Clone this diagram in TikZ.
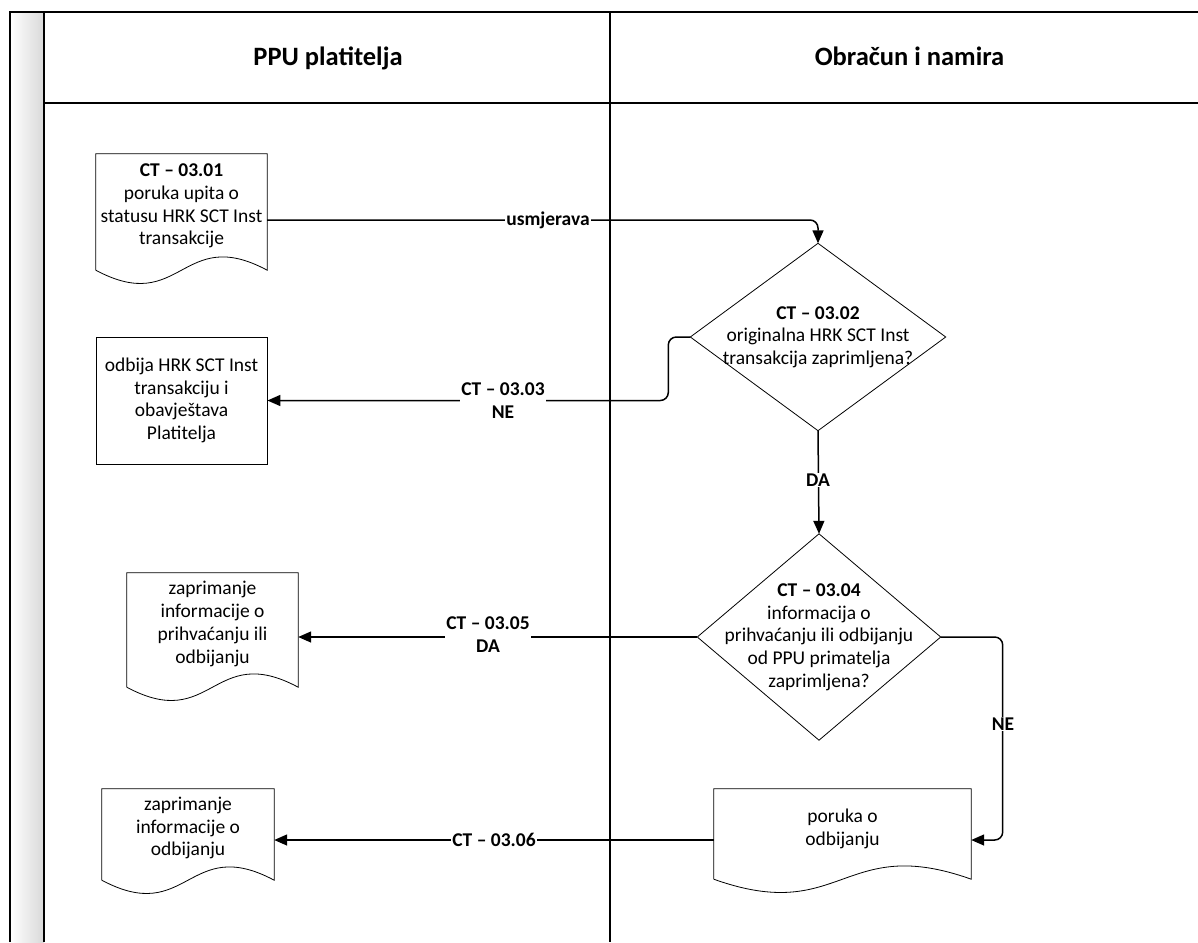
\documentclass[tikz,border=0pt]{standalone}
\usepackage{fontspec}
\setmainfont{Carlito}
\usetikzlibrary{arrows.meta,calc}
\newcommand\docoutline[1]{%
  \draw[shapeline] (#1.south west) -- (#1.north west) -- (#1.north east) -- (#1.south east)
    .. controls ($(#1.south east)!0.5!(#1.south west)+(0,-46)$) and ($(#1.south east)!0.5!(#1.south west)+(0,46)$) .. (#1.south west);}
\newcommand\diamondoutline[1]{%
  \draw[shapeline] (#1.north) -- (#1.east) -- (#1.south) -- (#1.west) -- cycle;}
\begin{document}
\begin{tikzpicture}[x=1pt,y=-1pt,
  every node/.style={font=\fontsize{19.5}{22.7}\selectfont},
  box/.style={draw=none,rectangle,inner sep=0pt,align=center},
  shapeline/.style={draw=black,line width=0.8pt},
  frameline/.style={draw=black,line width=1.3pt},
  conn/.style={line width=1.5pt,-{Triangle[length=13pt,width=11pt]},rounded corners=8pt},
  lbl/.style={fill=white,inner sep=1pt,align=center,font=\fontsize{19.5}{23}\selectfont\bfseries},
  hdr/.style={anchor=base,font=\fontsize{26.5}{30}\selectfont\bfseries}]
\useasboundingbox (0,0) rectangle (1198,942);
% frame
\shade[left color=white,right color=gray!30] (10,12) rectangle (44,942);
\draw[frameline] (10,942) -- (10,12) -- (1198,12);
\draw[frameline] (44,12) -- (44,942);
\draw[frameline] (44,103) -- (1198,103);
\draw[frameline] (610,12) -- (610,942);
\node[hdr] (h1) at (328,66) {PPU platitelja};
\node[hdr] (h2) at (909.5,66) {Obračun i namira};
% shapes
\node[box,minimum width=171pt,minimum height=116pt] (d1) at (181.5,212) {};
\docoutline{d1}
\node[align=center] (t1) at (181.5,206) {\textbf{CT – 03.01}\\poruka upita o\\statusu HRK SCT Inst\\transakcije};
\node[box,draw,shapeline,minimum width=171pt,minimum height=127pt] (r2) at (181.5,400.5) {odbija HRK SCT Inst\\transakciju i\\obavještava\\Platitelja};
\node[box,minimum width=171pt,minimum height=114pt] (d3) at (212.5,630) {};
\docoutline{d3}
\node[align=center] (t3) at (212.5,624) {zaprimanje\\informacije o\\prihvaćanju ili\\odbijanju};
\node[box,minimum width=172pt,minimum height=91pt] (d5) at (188,834.5) {};
\docoutline{d5}
\node[align=center] (t5) at (188,828) {zaprimanje\\informacije o\\odbijanju};
\node[box,minimum width=257pt,minimum height=90pt] (d4) at (842.5,834) {};
\docoutline{d4}
\node[align=center] (t4) at (842.5,829) {poruka o\\odbijanju};
\node[box,minimum width=255pt,minimum height=187pt] (q1) at (818,337) {};
\diamondoutline{q1}
\node[align=center] (tq1) at (818,337) {\textbf{CT – 03.02}\\originalna HRK SCT Inst\\transakcija zaprimljena?};
\node[box,minimum width=243pt,minimum height=206pt] (q2) at (819,637) {};
\diamondoutline{q2}
\node[align=center] (tq2) at (819,637) {\textbf{CT – 03.04}\\informacija o\\prihvaćanju ili odbijanju\\od PPU primatelja\\zaprimljena?};
% connectors
\draw[conn] (d1.east |- 0,220) -| (q1.north);
\node[lbl] (l1) at (548,220) {usmjerava};
\draw[conn] (q1.west) -- ++(-22,0) |- (r2.east);
\node[lbl] (l2) at (503,401) {CT – 03.03\\NE};
\draw[conn] (q1.south) -- (q2.north);
\node[lbl] (l3) at (818,480) {DA};
\draw[conn] (q2.west) -- (d3.east |- q2.west);
\node[lbl] (l4) at (488,635) {CT – 03.05\\DA};
\draw[conn] (q2.east) -- ++(62,0) |- (d4.east |- 0,840);
\node[lbl] (l5) at (1003,724) {NE};
\draw[conn] (d4.west |- 0,840) -- (d5.east |- 0,840);
\node[lbl] (l6) at (494,840) {CT – 03.06};
\end{tikzpicture}
\end{document}
